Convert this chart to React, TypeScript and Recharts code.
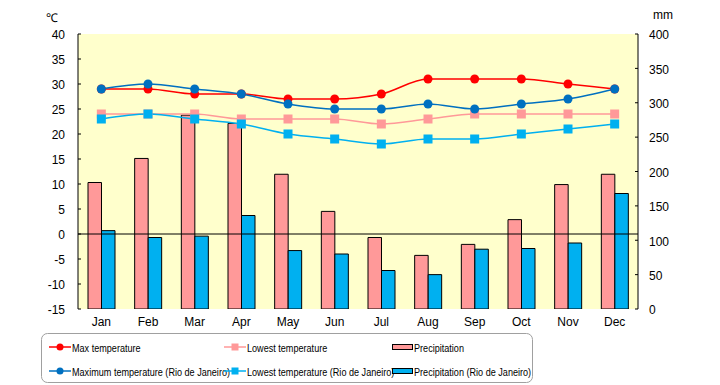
import React from 'react';
import { ComposedChart, Bar, Line, XAxis, YAxis, CartesianGrid, ReferenceLine } from 'recharts';

const months = ['Jan', 'Feb', 'Mar', 'Apr', 'May', 'Jun', 'Jul', 'Aug', 'Sep', 'Oct', 'Nov', 'Dec'];
const maxTemp = [29, 29, 28, 28, 27, 27, 28, 31, 31, 31, 30, 29];
const lowTemp = [24, 24, 24, 23, 23, 23, 22, 23, 24, 24, 24, 24];
const precip = [184, 219, 282, 270, 196, 142, 104, 78, 94, 130, 181, 196];
const rioMax = [29, 30, 29, 28, 26, 25, 25, 26, 25, 26, 27, 29];
const rioLow = [23, 24, 23, 22, 20, 19, 18, 19, 19, 20, 21, 22];
const rioPrecip = [114, 104, 106, 136, 85, 80, 56, 50, 87, 88, 96, 168];
const leftTicks = [-15, -10, -5, 0, 5, 10, 15, 20, 25, 30, 35, 40];
const rightTicks = [0, 50, 100, 150, 200, 250, 300, 350, 400];

const data = months.map((m, i) => ({
  month: m,
  maxTemp: maxTemp[i],
  lowTemp: lowTemp[i],
  precip: precip[i],
  rioMax: rioMax[i],
  rioLow: rioLow[i],
  rioPrecip: rioPrecip[i],
}));

const FONT = '"Liberation Sans", Arial, sans-serif';

const Square = (color: string) => (props: any) => {
  const { cx, cy } = props;
  if (cx == null || cy == null) return <g />;
  return <rect x={cx - 4.5} y={cy - 4.5} width={9} height={9} fill={color} />;
};

const Circle = (color: string) => (props: any) => {
  const { cx, cy } = props;
  if (cx == null || cy == null) return <g />;
  return <circle cx={cx} cy={cy} r={4.5} fill={color} />;
};

const LegendBox = () => {
  const rows = [347, 371];
  const items = [
    { kind: 'circle', color: '#FF0000', label: 'Max temperature', col: 0, row: 0 },
    { kind: 'square', color: '#FF9999', label: 'Lowest temperature', col: 1, row: 0 },
    { kind: 'bar', color: '#FF9999', label: 'Precipitation', col: 2, row: 0 },
    { kind: 'circle', color: '#0070C0', label: 'Maximum temperature (Rio de Janeiro)', col: 0, row: 1 },
    { kind: 'square', color: '#00B0F0', label: 'Lowest temperature (Rio de Janeiro)', col: 1, row: 1 },
    { kind: 'bar', color: '#00B0F0', label: 'Precipitation (Rio de Janeiro)', col: 2, row: 1 },
  ];
  const cols = [49, 224, 392];
  return (
    <svg width={720} height={385} style={{ position: 'absolute', left: 0, top: 0, pointerEvents: 'none' }}>
      <rect x={41.5} y={333.5} width={491} height={49} rx={6} ry={6} fill="#fff" stroke="#A0A0A0" strokeWidth={1} />
      {items.map((it, i) => {
        const x0 = cols[it.col];
        const y = rows[it.row];
        let sym;
        if (it.kind === 'bar') {
          sym = <rect x={x0 + 0.5} y={y - 2.5} width={20} height={5} fill={it.color} stroke="#000" strokeWidth={1} />;
        } else {
          sym = (
            <g>
              <line x1={x0} x2={x0 + 22} y1={y} y2={y} stroke={it.color} strokeWidth={1.5} />
              {it.kind === 'circle' ? (
                <circle cx={x0 + 11} cy={y} r={3.5} fill={it.color} />
              ) : (
                <rect x={x0 + 7.5} y={y - 3.5} width={7} height={7} fill={it.color} />
              )}
            </g>
          );
        }
        const tx = x0 + (it.kind === 'bar' ? 22 : 23);
        return (
          <g key={i}>
            {sym}
            <g transform={`translate(${tx},${y + 4.5}) scale(0.79,1)`}>
              <text x={0} y={0} fontSize={11.5} fontFamily={FONT} fill="#000">
                {it.label}
              </text>
            </g>
          </g>
        );
      })}
    </svg>
  );
};

export default function App() {
  return (
    <div style={{ position: 'absolute', left: 0, top: 0, width: 720, height: 385, background: '#fff', fontFamily: FONT }}>
      <ComposedChart
        width={720}
        height={385}
        data={data}
        margin={{ top: 34, right: 0, left: 0, bottom: 46 }}
        barGap={0}
      >
        <CartesianGrid horizontal={false} vertical={false} fill="#FFFFCC" />
        <XAxis
          dataKey="month"
          axisLine={false}
          tickLine={false}
          tickSize={0}
          tickMargin={8}
          height={30}
          interval={0}
          tick={{ fill: '#000', fontSize: 12, fontFamily: FONT }}
        />
        <YAxis
          yAxisId="left"
          orientation="left"
          domain={[-15, 40]}
          ticks={leftTicks}
          interval={0}
          width={78}
          stroke="#000"
          tickSize={-3}
          tickMargin={16}
          tickLine={{ stroke: '#000' }}
          axisLine={{ stroke: '#000' }}
          tick={{ fill: '#000', fontSize: 12, fontFamily: FONT, dy: 1 }}
          allowDataOverflow
        />
        <YAxis
          yAxisId="right"
          orientation="right"
          domain={[0, 400]}
          ticks={rightTicks}
          interval={0}
          width={82}
          stroke="#000"
          tickSize={-3}
          tickMargin={14}
          tickLine={{ stroke: '#000' }}
          axisLine={{ stroke: '#000' }}
          tick={{ fill: '#000', fontSize: 12, fontFamily: FONT, dy: 1 }}
          allowDataOverflow
        />
        <Bar yAxisId="right" dataKey="precip" fill="#FF9999" stroke="#000" strokeWidth={1} barSize={13.5} isAnimationActive={false} />
        <Bar yAxisId="right" dataKey="rioPrecip" fill="#00B0F0" stroke="#000" strokeWidth={1} barSize={13.5} isAnimationActive={false} />
        <ReferenceLine yAxisId="left" y={0} stroke="#000" strokeWidth={1} />
        <Line yAxisId="left" type="monotone" dataKey="lowTemp" stroke="#FF9999" strokeWidth={1.5} dot={Square('#FF9999')} isAnimationActive={false} />
        <Line yAxisId="left" type="monotone" dataKey="rioLow" stroke="#00B0F0" strokeWidth={1.5} dot={Square('#00B0F0')} isAnimationActive={false} />
        <Line yAxisId="left" type="monotone" dataKey="maxTemp" stroke="#FF0000" strokeWidth={1.5} dot={Circle('#FF0000')} isAnimationActive={false} />
        <Line yAxisId="left" type="monotone" dataKey="rioMax" stroke="#0070C0" strokeWidth={1.5} dot={Circle('#0070C0')} isAnimationActive={false} />
      </ComposedChart>
      <div style={{ position: 'absolute', left: 46, top: 9, fontSize: 12, color: '#000' }}>℃</div>
      <div style={{ position: 'absolute', left: 653, top: 8, fontSize: 12, color: '#000' }}>mm</div>
      <LegendBox />
    </div>
  );
}
